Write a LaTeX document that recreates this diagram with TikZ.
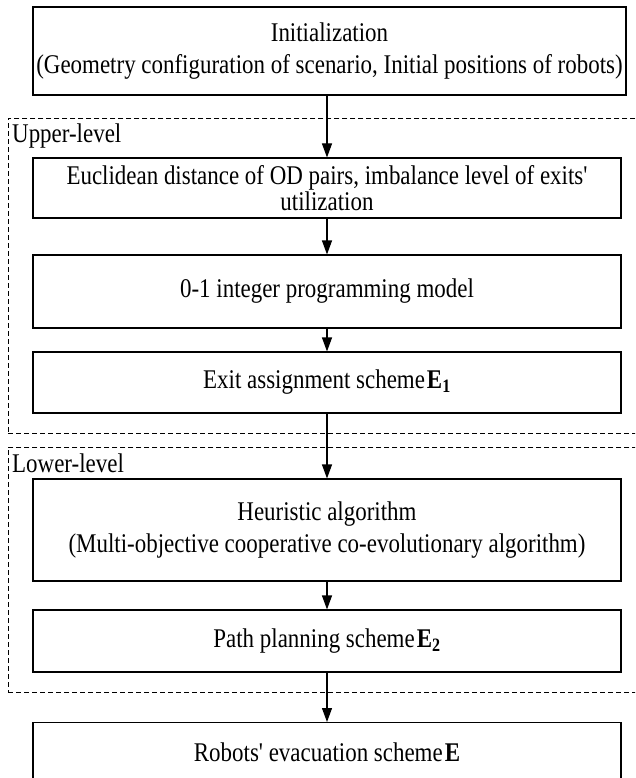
\documentclass[tikz,border=0pt]{standalone}
\usepackage{fontspec}
\setmainfont{Liberation Serif}[FakeStretch=0.85, Ligatures=TeXOff]
\usetikzlibrary{arrows.meta}
\tikzset{
  stepbox/.style={draw, line width=1.1pt, inner sep=0pt, align=center, font=\fontsize{27}{32}\selectfont},
  grp/.style={draw, line width=0.9pt, dash pattern=on 5pt off 3pt, inner sep=0pt},
  flow/.style={line width=1.1pt, -{Triangle[width=10pt,length=14pt]}},
  lvl/.style={anchor=west, inner sep=0pt, font=\fontsize{27}{30}\selectfont},
  plain/.style={inner sep=0pt, font=\fontsize{27}{30}\selectfont}
}
\begin{document}
\begin{tikzpicture}[x=1pt,y=-1pt]
\useasboundingbox (0,0) rectangle (635,778);
\clip (0,0) rectangle (635,778);

% groups
\node[grp, minimum width=640, minimum height=315, anchor=north west] (upper) at (8,118) {};
\node[grp, minimum width=640, minimum height=245, anchor=north west] (lower) at (8,447) {};
\node[lvl] (ul) at (12,136) {Upper-level};
\node[lvl] (ll) at (12,463) {Lower-level};

% boxes
\node[stepbox, minimum width=593, minimum height=88] (init) at (329.5,51)
  {Initialization\\(Geometry configuration of scenario, Initial positions of robots)};
\node[stepbox, minimum width=588, minimum height=60, font=\fontsize{27}{26}\selectfont] (eu) at (327,188)
  {Euclidean distance of OD pairs, imbalance level of exits'\\utilization};
\node[stepbox, minimum width=588, minimum height=73] (zo) at (327,291.5)
  {0-1 integer programming model};
\node[stepbox, minimum width=588, minimum height=61] (ex) at (327,382.5)
  {Exit assignment scheme\kern2pt\textbf{E\textsubscript{1}}};
\node[stepbox, minimum width=588, minimum height=102] (he) at (327,530)
  {Heuristic algorithm\\(Multi-objective cooperative co-evolutionary algorithm)};
\node[stepbox, minimum width=588, minimum height=62] (pa) at (327,641)
  {Path planning scheme\kern2pt\textbf{E\textsubscript{2}}};
\node[stepbox, minimum width=588, minimum height=100, anchor=north] (rob) at (327,722) {};
\node[plain] (robt) at (327,752) {Robots' evacuation scheme\kern2pt\textbf{E}};

% connectors
\draw[flow] (eu.north |- init.south) -- (eu.north);
\draw[flow] (eu.south) -- (zo.north);
\draw[flow] (zo.south) -- (ex.north);
\draw[flow] (ex.south) -- (he.north);
\draw[flow] (he.south) -- (pa.north);
\draw[flow] (pa.south) -- (rob.north);
\end{tikzpicture}
\end{document}
